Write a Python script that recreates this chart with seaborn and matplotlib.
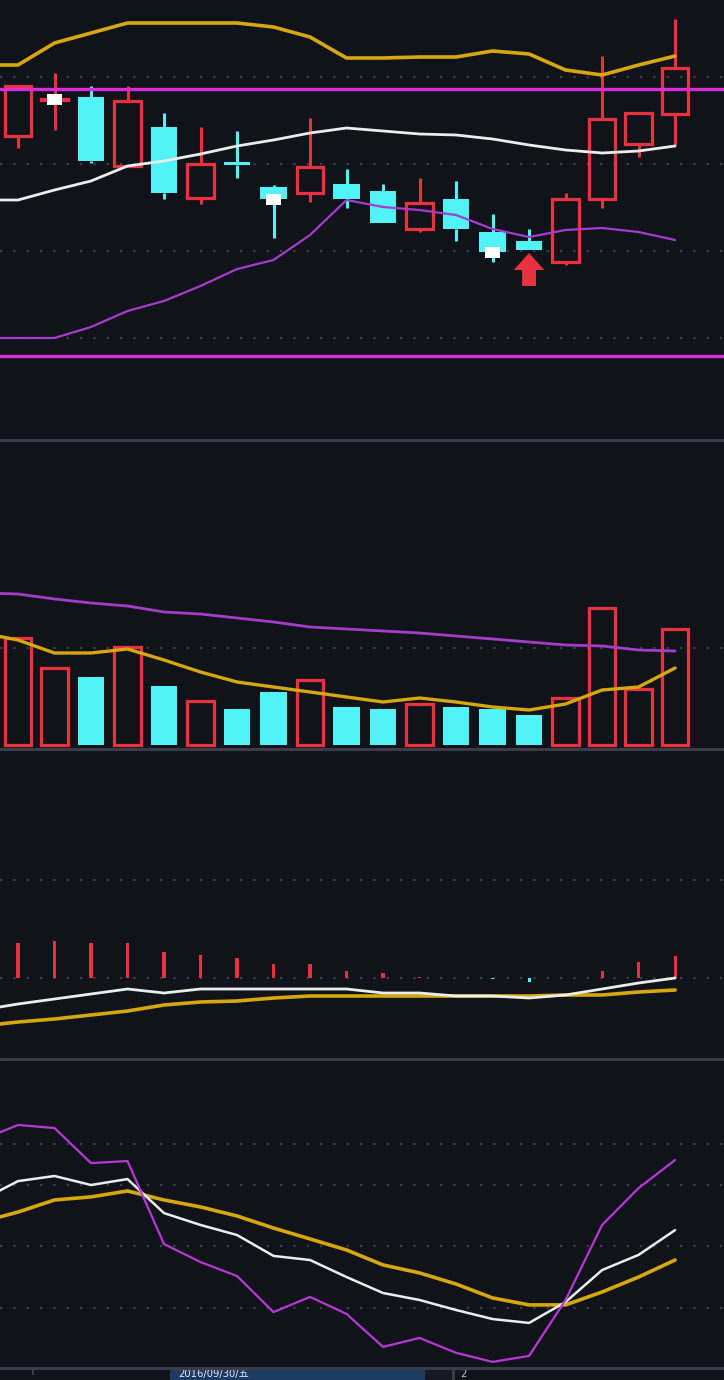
import numpy as np
import matplotlib
matplotlib.use("Agg")
import matplotlib.pyplot as plt
import seaborn as sns
from matplotlib.patches import FancyArrow, Rectangle
from matplotlib.lines import Line2D

# ---------------- data ----------------
opens  = [11.04, 11.40, 11.43, 10.74, 11.13, 10.42, 10.76, 10.53, 10.47, 10.56,
          10.49, 10.11, 10.41, 10.08, 9.99, 9.78, 10.41, 10.96, 11.26]
closes = [11.54, 11.41, 10.79, 11.39, 10.47, 10.76, 10.75, 10.41, 10.73, 10.41,
          10.17, 10.37, 10.11, 9.88, 9.90, 10.41, 11.21, 11.27, 11.72]
highs  = [11.54, 11.67, 11.54, 11.54, 11.27, 11.13, 11.09, 10.55, 11.22, 10.71,
          10.56, 10.62, 10.59, 10.26, 10.11, 10.47, 11.84, 11.27, 12.21]
lows   = [10.92, 11.10, 10.77, 10.74, 10.41, 10.36, 10.62, 10.02, 10.38, 10.32,
          10.17, 10.08, 9.99, 9.78, 9.90, 9.75, 10.32, 10.83, 10.95]

# Bollinger-style bands, first value belongs to the bar before the window
boll_upper = [11.75, 11.75, 11.97, 12.07, 12.17, 12.17, 12.17, 12.17, 12.13, 12.03,
              11.82, 11.82, 11.83, 11.83, 11.89, 11.86, 11.70, 11.65, 11.75, 11.84]
boll_mid   = [10.40, 10.40, 10.50, 10.59, 10.74, 10.79, 10.86, 10.94, 11.00, 11.07,
              11.12, 11.09, 11.06, 11.05, 11.01, 10.95, 10.90, 10.87, 10.89, 10.94]
boll_lower = [9.02, 9.02, 9.02, 9.13, 9.29, 9.39, 9.54, 9.71, 9.80, 10.05,
              10.40, 10.33, 10.30, 10.25, 10.11, 10.03, 10.10, 10.12, 10.08, 10.00]
level_lines = [11.51, 8.84]
price_grid = [11.63, 10.76, 9.89, 9.02]
marker_idx = [1, 7, 13]          # white square signals, drawn at the close
signal_idx = 14                  # red arrow

volume  = [10.7, 7.7, 6.8, 9.8, 5.9, 4.4, 3.6, 5.3, 6.5, 3.8,
           3.6, 4.1, 3.8, 3.6, 3.0, 4.7, 13.7, 5.6, 11.6]
vol_ma_long  = [15.2, 15.1, 14.6, 14.2, 13.9, 13.3, 13.1, 12.7, 12.3, 11.8,
                11.6, 11.4, 11.2, 10.9, 10.6, 10.3, 10.0, 9.9, 9.5, 9.4]
vol_ma_short = [11.2, 10.5, 9.2, 9.2, 9.6, 8.5, 7.3, 6.3, 5.8, 5.3,
                4.8, 4.3, 4.7, 4.3, 3.8, 3.5, 4.1, 5.5, 5.8, 7.7]
vol_grid = [9.7]

macd_hist = [0.35, 0.37, 0.35, 0.35, 0.26, 0.23, 0.20, 0.14, 0.14, 0.07,
             0.05, 0.015, 0.0, -0.01, -0.04, 0.0, 0.07, 0.16, 0.22]
macd_dif = [-0.32, -0.26, -0.21, -0.16, -0.11, -0.15, -0.11, -0.11, -0.11, -0.11,
            -0.11, -0.15, -0.15, -0.18, -0.18, -0.20, -0.17, -0.11, -0.05, 0.00]
macd_dea = [-0.48, -0.44, -0.41, -0.37, -0.33, -0.27, -0.24, -0.23, -0.20, -0.18,
            -0.18, -0.18, -0.18, -0.18, -0.18, -0.18, -0.17, -0.17, -0.14, -0.12]
macd_grid = [0.0, 0.98]

kdj_k = [72.7, 81.9, 84.4, 80.0, 82.9, 66.3, 60.5, 55.6, 45.4, 43.4,
         35.1, 27.3, 23.9, 19.0, 14.6, 12.7, 22.9, 38.5, 45.9, 58.0]
kdj_d = [62.0, 66.8, 72.7, 74.2, 77.1, 72.7, 69.3, 64.9, 59.0, 53.7,
         48.3, 41.0, 37.1, 31.7, 24.9, 21.5, 21.5, 27.8, 35.1, 43.4]
kdj_j = [102.0, 109.3, 107.8, 90.7, 91.7, 51.2, 42.4, 35.6, 18.0, 25.4,
         17.1, 1.0, 5.4, -1.9, -6.3, -3.4, 23.9, 60.5, 78.5, 92.2]
kdj_grid = [20, 50, 80, 100]

date_label = "2016/09/30/五"
next_label = "2"

# ---------------- style ----------------
BG = "#11131a"
RED = "#e8323f"
CYAN = "#52f3f7"
GOLD = "#d6a70e"
WHITE = "#ececec"
LOWBAND = "#a83ad0"
MAG = "#d82ed8"
JCOL = "#b838d6"
GRID = "#3c3f4b"
SEP = "#3a3d48"

sns.set_theme(style="dark", rc={"axes.facecolor": BG, "figure.facecolor": BG})
plt.rcParams["font.family"] = ["DejaVu Sans", "Noto Sans CJK SC"]

W, H = 724, 1380
fig = plt.figure(figsize=(W / 100, H / 100), dpi=100, facecolor=BG)

n = len(opens)
idx = np.arange(n)
ext_idx = np.arange(-1, n)
XL = (-0.493, 19.34)


def panel(top_px, bot_px, ylim):
    ax = fig.add_axes([0, 1 - bot_px / H, 1, (bot_px - top_px) / H])
    ax.set_facecolor(BG)
    ax.set_xlim(*XL)
    ax.set_ylim(*ylim)
    ax.set_xticks([])
    ax.set_yticks([])
    for s in ax.spines.values():
        s.set_visible(False)
    ax.grid(False)
    return ax


def dotted(ax, vals):
    for v in vals:
        ax.axhline(v, color=GRID, lw=1.6, ls=(0, (1, 5)), zorder=0)


def line(ax, y, color, lw, z=4):
    sns.lineplot(x=ext_idx[-len(y):], y=y, ax=ax, color=color, lw=lw,
                 estimator=None, sort=False, zorder=z)


BW = 0.72

# ---------------- price panel ----------------
ax1 = panel(0, 440, (8.0, 12.40))
dotted(ax1, price_grid)
for i in idx:
    o, c, h, l = opens[i], closes[i], highs[i], lows[i]
    up = c >= o
    col = RED if up else CYAN
    top, bot = max(o, c), min(o, c)
    ax1.vlines(i, top, h, color=col, lw=2.2, zorder=2)
    ax1.vlines(i, l, bot, color=col, lw=2.2, zorder=2)
    if up:
        ax1.bar(i, max(top - bot, 0.01), bottom=bot, width=BW, facecolor="none",
                edgecolor=col, lw=2.3, zorder=2)
    else:
        ax1.bar(i, max(top - bot, 0.025), bottom=bot, width=BW, color=col,
                lw=0, zorder=2)
for i in marker_idx:
    ax1.bar(i, 0.11, bottom=closes[i] - 0.055, width=0.42, color="white",
            lw=0, zorder=3)
for v in level_lines:
    ax1.axhline(v, color=MAG, lw=2.4, zorder=3)
line(ax1, boll_upper, GOLD, 2.6)
line(ax1, boll_mid, WHITE, 2.0)
line(ax1, boll_lower, LOWBAND, 1.6)
tip = lows[signal_idx] - 0.03
ax1.add_patch(FancyArrow(signal_idx, tip - 0.33, 0, 0.33, width=0.38,
                         head_width=0.84, head_length=0.17,
                         length_includes_head=True, color=RED, lw=0, zorder=5))

# ---------------- volume panel ----------------
ax2 = panel(441, 748, (-0.3, 30.4))
dotted(ax2, vol_grid)
for i in idx:
    up = closes[i] >= opens[i]
    if up:
        ax2.bar(i, volume[i], width=BW, facecolor="none", edgecolor=RED,
                lw=2.3, zorder=2)
    else:
        ax2.bar(i, volume[i], width=BW, color=CYAN, lw=0, zorder=2)
line(ax2, vol_ma_long, "#a63ccc", 2.0)
line(ax2, vol_ma_short, GOLD, 2.4)

# ---------------- MACD panel ----------------
ax3 = panel(750, 1058, (-0.80, 2.28))
dotted(ax3, macd_grid)
hcol = [RED if v >= 0 else CYAN for v in macd_hist]
ax3.bar(idx, macd_hist, width=0.085, color=hcol, lw=0, zorder=2)
line(ax3, macd_dea, GOLD, 2.6)
line(ax3, macd_dif, WHITE, 2.0, z=5)

# ---------------- KDJ panel ----------------
ax4 = panel(1060, 1367, (-8.8, 141.0))
dotted(ax4, kdj_grid)
line(ax4, kdj_d, GOLD, 2.6)
line(ax4, kdj_k, WHITE, 1.8, z=5)
line(ax4, kdj_j, JCOL, 1.6, z=6)

# ---------------- separators ----------------
for ypx in (440, 749, 1059, 1367.5):
    fig.add_artist(Line2D([0, 1], [1 - ypx / H] * 2, color=SEP, lw=2.2,
                          transform=fig.transFigure))

# ---------------- bottom date strip ----------------
SH = 11.5
axs = fig.add_axes([0, 0, 1, SH / H])
axs.set_facecolor(BG)
axs.set_xlim(0, W)
axs.set_ylim(H, H - SH)
axs.set_xticks([])
axs.set_yticks([])
for s in axs.spines.values():
    s.set_visible(False)
axs.add_patch(Rectangle((170, H - SH), 255, SH, color="#1d3a62", lw=0))
axs.add_patch(Rectangle((425, H - SH), 27, SH, color="#161922", lw=0))
axs.add_patch(Rectangle((452, H - SH), 3, SH, color="#3a3d48", lw=0))
axs.add_patch(Rectangle((32, H - SH), 2, 6, color="#3a3d48", lw=0))
axs.text(178, H - SH / 2, date_label, fontsize=7.2, color="#e6e8ee",
         va="center", ha="left", family=["DejaVu Sans", "Noto Sans CJK SC"])
axs.text(460, H - SH / 2, next_label, fontsize=7.2, color="#c8c8c8",
         va="center", ha="left")

fig.savefig("out.png", dpi=100, facecolor=BG)
